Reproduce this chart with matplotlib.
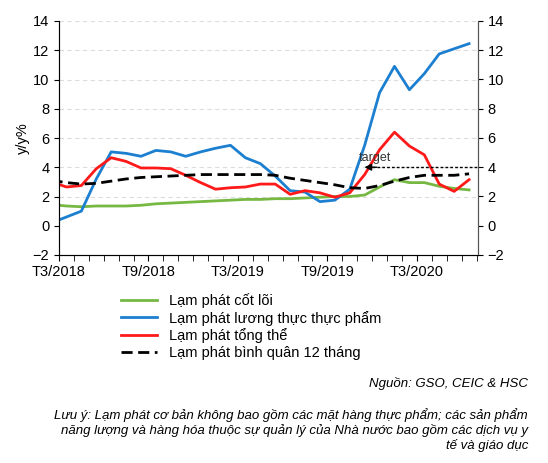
import numpy as np
import matplotlib.pyplot as plt

plt.rcParams['font.family'] = ['Liberation Sans', 'DejaVu Sans']

# monthly points, Feb 2018 .. Jun 2020 (x = month offset from T3/2018, mid-month)
food = [0.2, 0.6, 1.0, 3.2, 5.05, 4.95, 4.75, 5.15, 5.05, 4.75, 5.05, 5.3, 5.5, 4.65, 4.25,
        3.4, 2.4, 2.3, 1.65, 1.75, 2.5, 5.5, 9.1, 10.9, 9.3, 10.4, 11.75, 12.1, 12.45]
headline = [3.0, 2.65, 2.75, 3.9, 4.65, 4.4, 3.95, 3.95, 3.9, 3.45, 2.95, 2.5, 2.6, 2.65, 2.85,
            2.85, 2.15, 2.4, 2.25, 1.95, 2.25, 3.5, 5.2, 6.4, 5.45, 4.85, 2.85, 2.35, 3.15]
core = [1.45, 1.35, 1.3, 1.35, 1.35, 1.35, 1.4, 1.5, 1.55, 1.6, 1.65, 1.7, 1.75, 1.8, 1.8,
        1.85, 1.85, 1.9, 1.95, 2.0, 2.0, 2.1, 2.65, 3.15, 2.95, 2.95, 2.7, 2.55, 2.45]
avg12 = [3.1, 2.95, 2.85, 2.9, 3.05, 3.2, 3.3, 3.35, 3.4, 3.45, 3.5, 3.5, 3.5, 3.5, 3.5,
         3.45, 3.25, 3.1, 2.95, 2.8, 2.6, 2.55, 2.75, 3.05, 3.3, 3.45, 3.45, 3.45, 3.55]
tick_labels = ["T3/2018", "T9/2018", "T3/2019", "T9/2019", "T3/2020"]
target = 4

x = np.arange(len(food)) - 0.5

fig = plt.figure(figsize=(5.48, 4.63), dpi=100)
ax = fig.add_axes([59 / 548, 1 - 255 / 463, 419 / 548, 234 / 463])
ax.set_xlim(0, 28.1)
ax.set_ylim(-2, 14)
ax.set_yticks(range(-2, 15, 2))
for v in range(2, 15, 2):
    ax.axhline(v, color="#dddddd", lw=0.8, ls=(0, (4, 3)), zorder=0)

ax.plot(x, core, color="#77b843", lw=2, label="Lạm phát cốt lõi")
ax.plot(x, food, color="#1c7fd0", lw=2, label="Lạm phát lương thực thực phẩm")
ax.plot(x, headline, color="#ff1a1a", lw=2, label="Lạm phát tổng thể")
ax.plot(x, avg12, color="black", lw=2, ls=(0, (4, 2)), label="Lạm phát bình quân 12 tháng")
ax.plot([21, 28.1], [target, target], color="black", lw=1, ls=(0, (2, 1.5)), clip_on=False)
ax.annotate("", xy=(20.3, target), xytext=(21.5, target),
            arrowprops=dict(arrowstyle="-|>", color="black", lw=1))
ax.text(21.2, 4.2, "target", fontsize=9, color="#333333", ha="center", va="bottom")

ax.set_xticks([0, 6, 12, 18, 24])
ax.set_xticklabels(tick_labels, fontsize=10.5)
ax.set_xticks(range(0, 29), minor=True)
ax.tick_params(axis="x", which="both", direction="out", length=4)
ax.tick_params(axis="y", labelsize=10.5, direction="out")
ax.set_ylabel("y/y%", fontsize=10.5, labelpad=2)
ax.spines["top"].set_visible(False)
for s in ["left", "bottom", "right"]:
    ax.spines[s].set_color("#555555")

ax2 = ax.twinx()
ax2.set_ylim(-2, 14)
ax2.set_yticks(range(-2, 15, 2))
ax2.tick_params(axis="y", labelsize=10.5, direction="out")
ax2.spines["top"].set_visible(False)
ax2.spines["right"].set_color("#555555")

handles, labels = ax.get_legend_handles_labels()
fig.legend(handles, labels, loc="upper left", bbox_to_anchor=(115 / 548, 1 - 287 / 463),
           frameon=False, fontsize=10.5, handlelength=2.5, labelspacing=0.2, borderaxespad=0)

fig.text(528 / 548, 1 - 383 / 463, "Nguồn: GSO, CEIC & HSC", fontsize=9.5, style="italic",
         ha="right", va="center")
fig.text(528 / 548, 1 - 430 / 463,
         "Lưu ý: Lạm phát cơ bản không bao gồm các mặt hàng thực phẩm; các sản phẩm\n"
         "năng lượng và hàng hóa thuộc sự quản lý của Nhà nước bao gồm các dịch vụ y\n"
         "tế và giáo dục",
         fontsize=9.5, style="italic", ha="right", va="center", linespacing=1.2)

fig.savefig("out.png", dpi=100)
